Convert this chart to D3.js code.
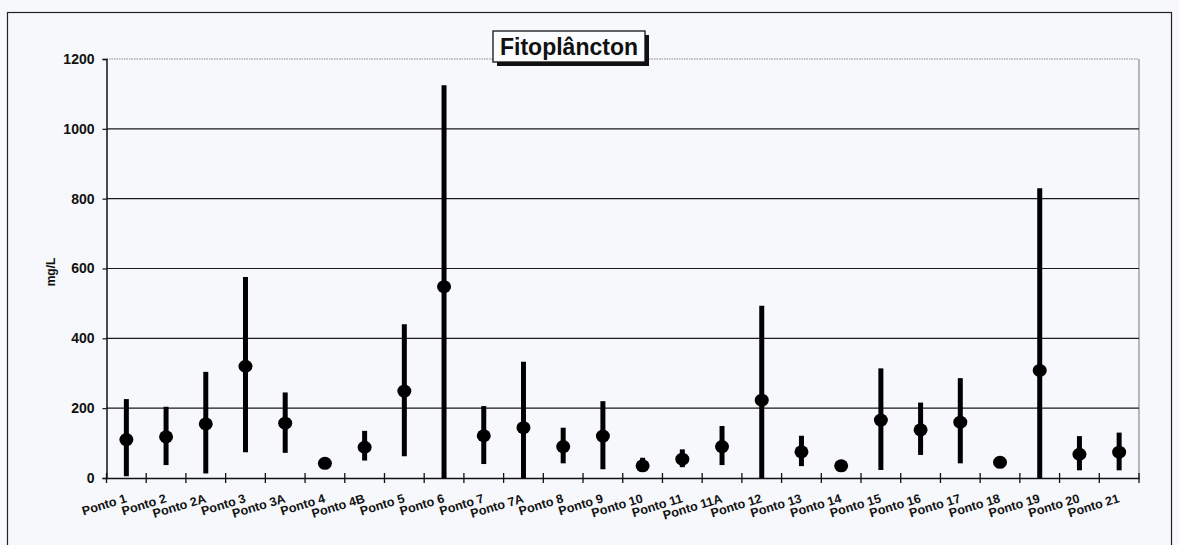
<!DOCTYPE html>
<html>
<head>
<meta charset="utf-8">
<script src="https://cdn.jsdelivr.net/npm/d3@7"></script>
<style>
  html, body { margin: 0; padding: 0; background: #f6f8fb; }
  svg { display: block; }
  text { font-family: "Liberation Sans", Arial, sans-serif; font-weight: bold; fill: #111; }
</style>
</head>
<body>
<svg id="chart" width="1179" height="545"></svg>
<script>
const categories = ["Ponto 1","Ponto 2","Ponto 2A","Ponto 3","Ponto 3A","Ponto 4","Ponto 4B","Ponto 5","Ponto 6","Ponto 7","Ponto 7A","Ponto 8","Ponto 9","Ponto 10","Ponto 11","Ponto 11A","Ponto 12","Ponto 13","Ponto 14","Ponto 15","Ponto 16","Ponto 17","Ponto 18","Ponto 19","Ponto 20","Ponto 21"];
const meanValues = [110,118,155,320,157,42,88,249,548,121,144,90,120,35,54,90,223,75,35,166,138,160,45,308,68,74];
const maxValues  = [226,204,304,576,245,50,135,440,1125,206,333,144,220,58,82,149,493,121,42,314,216,286,50,830,120,130];
const minValues  = [5,37,13,74,72,32,50,62,0,40,0,42,25,22,31,37,0,34,28,23,66,42,38,0,22,22];
const yTicks = [0,200,400,600,800,1000,1200];
const titleText = "Fitoplâncton";
const yLabel = "mg/L";

const svg = d3.select("#chart");
const plot = {left: 106.5, right: 1139, top: 59, bottom: 478};

// outer frame
svg.append("rect").attr("x", 7.5).attr("y", 12.5).attr("width", 1164).attr("height", 540)
  .attr("fill", "#f6f8fb").attr("stroke", "#222").attr("stroke-width", 1.2);

const x = d3.scaleBand().domain(categories).range([plot.left, plot.right]).padding(0);
const y = d3.scaleLinear().domain([0, 1200]).range([plot.bottom, plot.top]);

// plot area border (right gray, top dotted)
svg.append("line").attr("x1", plot.right).attr("x2", plot.right).attr("y1", plot.top).attr("y2", plot.bottom)
  .attr("stroke", "#777").attr("stroke-width", 1);
svg.append("line").attr("x1", plot.left).attr("x2", plot.right).attr("y1", y(1200)).attr("y2", y(1200))
  .attr("stroke", "#888").attr("stroke-width", 1.2).attr("stroke-dasharray", "1.5,1");

// gridlines
svg.append("g").selectAll("line").data(yTicks.filter(t => t > 0 && t < 1200)).join("line")
  .attr("x1", plot.left).attr("x2", plot.right)
  .attr("y1", d => y(d)).attr("y2", d => y(d))
  .attr("stroke", "#1a1a1a").attr("stroke-width", 1.2);

// y axis
const yAxis = d3.axisLeft(y).tickValues(yTicks).tickSize(4).tickPadding(8).tickFormat(d3.format("d"));
const gy = svg.append("g").attr("transform", `translate(${plot.left},0)`).call(yAxis);
gy.select(".domain").attr("stroke", "#111").attr("stroke-width", 1.5);
gy.selectAll(".tick line").attr("stroke", "#111").attr("stroke-width", 1.2);
gy.selectAll(".tick text").style("font-size", "14px").style("font-family", "'Liberation Sans', Arial, sans-serif").style("font-weight", "bold").attr("fill", "#111");

// x axis
const xAxis = d3.axisBottom(x).tickSize(0).tickFormat("");
const gx = svg.append("g").attr("transform", `translate(0,${plot.bottom})`).call(xAxis);
gx.select(".domain").attr("stroke", "#111").attr("stroke-width", 1.5);
gx.selectAll(".tick").remove();
// boundary tick marks crossing the axis
const bounds = categories.map(c => x(c)).concat([plot.right]);
svg.append("g").selectAll("line").data(bounds).join("line")
  .attr("x1", d => d).attr("x2", d => d)
  .attr("y1", plot.bottom - 5).attr("y2", plot.bottom + 5)
  .attr("stroke", "#111").attr("stroke-width", 1.3);

// category labels rotated
svg.append("g").selectAll("text").data(categories).join("text")
  .attr("transform", d => `translate(${x(d) + x.bandwidth()/2 + 1},${plot.bottom + 24}) rotate(-17)`)
  .attr("text-anchor", "end")
  .style("font-size", "12.5px")
  .text(d => d);

// error bars
const g = svg.append("g");
g.selectAll("line.err").data(categories).join("line").attr("class", "err")
  .attr("x1", d => x(d) + x.bandwidth()/2).attr("x2", d => x(d) + x.bandwidth()/2)
  .attr("y1", (d,i) => y(minValues[i])).attr("y2", (d,i) => y(maxValues[i]))
  .attr("stroke", "#000").attr("stroke-width", 5);
g.selectAll("ellipse.pt").data(categories).join("ellipse").attr("class", "pt")
  .attr("cx", d => x(d) + x.bandwidth()/2)
  .attr("cy", (d,i) => y(meanValues[i]))
  .attr("rx", 7).attr("ry", 6.5)
  .attr("fill", "#000");

// y label
svg.append("text").attr("transform", "translate(55,272) rotate(-90)")
  .attr("text-anchor", "middle").style("font-size", "12px").text(yLabel);

// title box with shadow
const tb = {x: 493, y: 31, w: 152, h: 31};
svg.append("rect").attr("x", tb.x + 4).attr("y", tb.y + 4).attr("width", tb.w).attr("height", tb.h).attr("fill", "#111");
svg.append("rect").attr("x", tb.x).attr("y", tb.y).attr("width", tb.w).attr("height", tb.h)
  .attr("fill", "#fbfcfd").attr("stroke", "#111").attr("stroke-width", 1.3);
svg.append("text").attr("x", tb.x + tb.w/2).attr("y", tb.y + 24)
  .attr("text-anchor", "middle").style("font-size", "23px").text(titleText);
</script>
</body>
</html>
